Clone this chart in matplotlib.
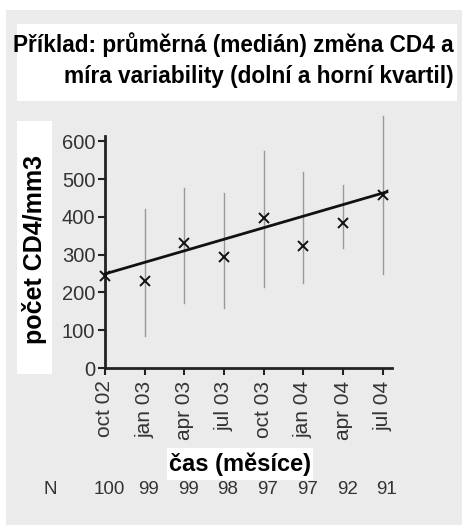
import matplotlib
matplotlib.use("Agg")
import matplotlib.pyplot as plt
import matplotlib.transforms as mtransforms
from matplotlib.patches import Rectangle

# data
months = ["oct 02", "jan 03", "apr 03", "jul 03", "oct 03", "jan 04", "apr 04", "jul 04"]
median = [243, 230, 330, 294, 397, 323, 383, 457]
q_low = [243, 85, 172, 159, 214, 225, 317, 249]
q_high = [243, 421, 476, 463, 574, 518, 484, 667]
n_pat = [100, 99, 99, 98, 97, 97, 92, 91]
trend_x = [0, 7.1]
trend_y = [249, 466]

W, H = 464, 525
fig = plt.figure(figsize=(W / 100, H / 100), dpi=100, facecolor="white")

def fbox(x0, y0, x1, y1, color):
    # rectangle given in pixel coords (origin top-left)
    fig.patches.append(Rectangle((x0 / W, 1 - y1 / H), (x1 - x0) / W, (y1 - y0) / H,
                                 transform=fig.transFigure, facecolor=color,
                                 edgecolor="none", zorder=-2))

fbox(6, 10, 462, 525, "#ebebeb")
fbox(17, 24, 457, 101, "white")
fbox(17, 121, 52, 374, "white")
fbox(167, 448, 313, 480, "white")

bold = ["Liberation Sans", "DejaVu Sans"]
reg = ["Liberation Sans", "DejaVu Sans"]

fig.text(454 / W, 1 - 45 / H, "Příklad: průměrná (medián) změna CD4 a", ha="right",
         va="center", fontsize=16.3, fontweight="bold", family=bold)
fig.text(454 / W, 1 - 76 / H, "míra variability (dolní a horní kvartil)", ha="right",
         va="center", fontsize=16.3, fontweight="bold", family=bold)
fig.text(35 / W, 1 - 250 / H, "počet CD4/mm3", rotation=90, ha="center", va="center",
         fontsize=18, fontweight="bold", family=bold)
fig.text(240 / W, 1 - 464 / H, "čas (měsíce)", ha="center", va="center",
         fontsize=17, fontweight="bold", family=bold)

ax = fig.add_axes([105 / W, 157 / H, 287 / W, 257 / H])
ax.set_zorder(2)
ax.patch.set_visible(False)
x = list(range(len(months)))

for xi, lo, hi in zip(x, q_low, q_high):
    ax.plot([xi, xi], [lo, hi], color="#999999", lw=1, clip_on=False, zorder=2)
ax.plot(trend_x, trend_y, color="#111111", lw=2, clip_on=False, zorder=3)
ax.plot(x, median, "x", color="#111111", ms=6.5, mew=1.4, clip_on=False, zorder=4)

ax.set_xlim(0, 7.23)
ax.set_ylim(0, 680)
ax.set_yticks([0, 100, 200, 300, 400, 500, 600])
ax.set_xticks(x)
ax.set_xticklabels(months, rotation=90, family=reg, fontsize=15, color="#333333")
for t in ax.get_yticklabels():
    t.set_family(reg)
    t.set_fontsize(14.5)
    t.set_color("#333333")
ax.tick_params(axis="both", direction="out", length=5, width=1.5, color="#222222")
ax.tick_params(axis="y", pad=2)
ax.tick_params(axis="x", pad=4)
for s in ["top", "right"]:
    ax.spines[s].set_visible(False)
for s in ["left", "bottom"]:
    ax.spines[s].set_linewidth(2)
    ax.spines[s].set_color("#222222")
ax.spines["left"].set_bounds(0, 615)

trans = mtransforms.blended_transform_factory(ax.transData, fig.transFigure)
fig.text(50 / W, 1 - 490 / H, "N", ha="center", va="center", fontsize=13.5,
         family=reg, color="#333333")
for xi, n in zip(x, n_pat):
    ax.text(xi + 0.1, 1 - 490 / H, str(n), transform=trans, ha="center", va="center",
            fontsize=13.5, family=reg, color="#333333")

fig.savefig("out.png", dpi=100, facecolor="white")
